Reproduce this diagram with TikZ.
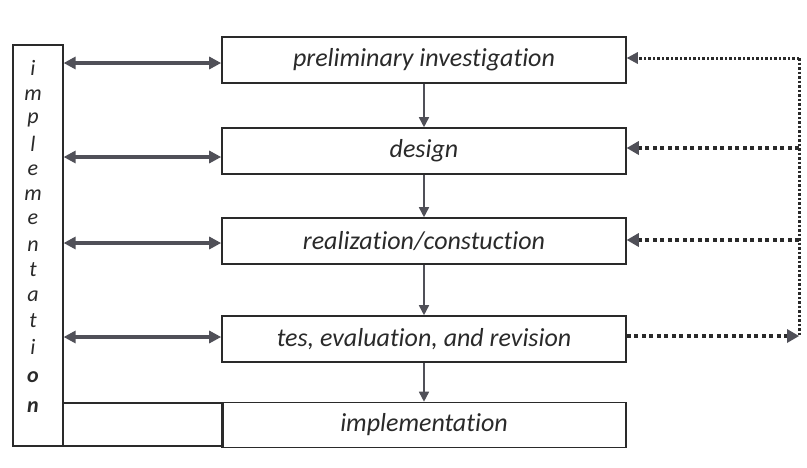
\documentclass[tikz,border=0pt]{standalone}
\usepackage{fontspec}
\setmainfont{Carlito}[Ligatures=NoCommon]
\usetikzlibrary{arrows.meta}
\definecolor{ink}{HTML}{2A2A2A}
\definecolor{arr}{HTML}{505058}
\newcommand{\lowtxt}[1]{\raisebox{-3pt}{#1}}
\begin{document}
\begin{tikzpicture}[x=1pt,y=-1pt,
  boxst/.style={draw=ink,line width=1.6pt,minimum width=404pt,minimum height=46pt,inner sep=0pt,
     font=\itshape\fontsize{26}{26}\selectfont,text=ink},
  dbl/.style={arr,line width=3.4pt,{Triangle[length=12pt,width=12pt]}-{Triangle[length=12pt,width=12pt]}},
  down/.style={arr,line width=1.6pt,-{Triangle[length=10pt,width=10pt]}},
  fb/.style={ink,line width=4pt,dash pattern=on 4pt off 3.5pt},
  letter/.style={font=\itshape\fontsize{22}{22}\selectfont,text=ink,inner sep=0pt}]
\useasboundingbox (0,0) rectangle (807,467);
\fill[white] (0,0) rectangle (807,467);
% left vertical box
\node[draw=ink,line width=1.6pt,minimum width=50pt,minimum height=401pt,inner sep=0pt,anchor=north west] (imp) at (12,44) {};
\node[draw=ink,line width=1.6pt,minimum width=160pt,minimum height=43pt,inner sep=0pt,anchor=north west] (cell) at (62,402) {};
% main boxes
\node[boxst] (b1) at (424,60) {\lowtxt{preliminary investigation}};
\node[boxst] (b2) at (424,151) {\lowtxt{design}};
\node[boxst] (b3) at (424,241) {\lowtxt{realization/constuction}};
\node[boxst] (b4) at (424,339) {\lowtxt{tes, evaluation, and revision}};
\node[boxst,minimum height=45pt] (b5) at (424,425) {\lowtxt{implementation}};
% vertical letters
\foreach \c/\y [count=\i] in {i/68,m/95,p/120,l/144,e/170,m/195,e/219,n/246,t/270,a/296,t/321,i/347}
  \node[letter] (L\i) at (33,\y) {\c};
\node[letter,font=\itshape\bfseries\fontsize{22}{22}\selectfont] (L13) at (33,377) {o};
\node[letter,font=\itshape\bfseries\fontsize{22}{22}\selectfont] (L14) at (33,407) {n};
% double arrows
\foreach \y [count=\i] in {63,157,243,337}
  \draw[dbl] (imp.east |- 0,\y) -- (b\i.west |- 0,\y);
% down arrows
\draw[down] (b1.south) -- (b2.north);
\draw[down] (b2.south) -- (b3.north);
\draw[down] (b3.south) -- (b4.north);
\draw[down] (b4.south) -- (b5.north);
% feedback
\coordinate (r1) at (799,58);
\coordinate (r2) at (799,148);
\coordinate (r3) at (799,240);
\coordinate (r4) at (799,336);
\draw[ink,line width=3pt,dash pattern=on 2.5pt off 2pt] (r1) -- (r4);
\draw[ink,line width=3pt,dash pattern=on 2.5pt off 2pt] (r1) -- ([xshift=11pt]b1.east |- r1);
\fill[arr] (b1.east |- r1) -- ++(11,-6) -- ++(0,12) -- cycle;
\draw[fb] (r2) -- ([xshift=11pt]b2.east |- r2);
\fill[arr] (b2.east |- r2) -- ++(12,-7) -- ++(0,14) -- cycle;
\draw[fb] (r3) -- ([xshift=11pt]b3.east |- r3);
\fill[arr] (b3.east |- r3) -- ++(12,-7) -- ++(0,14) -- cycle;
\draw[fb] (b4.east |- r4) -- ([xshift=-11pt]r4);
\fill[arr] (r4) -- ++(-12,-7) -- ++(0,14) -- cycle;
\end{tikzpicture}
\end{document}
